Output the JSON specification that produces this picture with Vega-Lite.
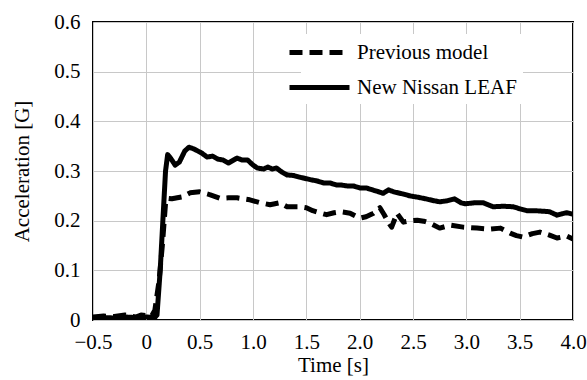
{
  "$schema": "https://vega.github.io/schema/vega-lite/v6.json",
  "width": 480,
  "height": 298,
  "autosize": {"type": "none"},
  "padding": {"left": 93, "top": 22, "right": 14, "bottom": 60},
  "background": "white",
  "config": {
    "view": {"stroke": "black", "strokeWidth": 2},
    "font": "'Liberation Serif', serif",
    "axis": {
      "labelFont": "'Liberation Serif', serif",
      "titleFont": "'Liberation Serif', serif",
      "labelFontSize": 21,
      "titleFontSize": 21,
      "labelColor": "black",
      "titleColor": "black",
      "titleFontWeight": "normal",
      "gridColor": "#c8c8c8",
      "gridWidth": 1,
      "gridOpacity": 1,
      "domain": false,
      "ticks": false
    }
  },
  "datasets": {
    "curves": [
      {"t": -0.5, "g": 0.004, "series": "New Nissan LEAF"},
      {"t": -0.4, "g": 0.005, "series": "New Nissan LEAF"},
      {"t": -0.3, "g": 0.004, "series": "New Nissan LEAF"},
      {"t": -0.2, "g": 0.006, "series": "New Nissan LEAF"},
      {"t": -0.1, "g": 0.005, "series": "New Nissan LEAF"},
      {"t": 0.0, "g": 0.006, "series": "New Nissan LEAF"},
      {"t": 0.08, "g": 0.005, "series": "New Nissan LEAF"},
      {"t": 0.10, "g": 0.01, "series": "New Nissan LEAF"},
      {"t": 0.13, "g": 0.10, "series": "New Nissan LEAF"},
      {"t": 0.16, "g": 0.22, "series": "New Nissan LEAF"},
      {"t": 0.18, "g": 0.30, "series": "New Nissan LEAF"},
      {"t": 0.20, "g": 0.333, "series": "New Nissan LEAF"},
      {"t": 0.23, "g": 0.325, "series": "New Nissan LEAF"},
      {"t": 0.27, "g": 0.312, "series": "New Nissan LEAF"},
      {"t": 0.31, "g": 0.318, "series": "New Nissan LEAF"},
      {"t": 0.36, "g": 0.340, "series": "New Nissan LEAF"},
      {"t": 0.40, "g": 0.348, "series": "New Nissan LEAF"},
      {"t": 0.45, "g": 0.344, "series": "New Nissan LEAF"},
      {"t": 0.52, "g": 0.336, "series": "New Nissan LEAF"},
      {"t": 0.57, "g": 0.328, "series": "New Nissan LEAF"},
      {"t": 0.62, "g": 0.330, "series": "New Nissan LEAF"},
      {"t": 0.67, "g": 0.324, "series": "New Nissan LEAF"},
      {"t": 0.72, "g": 0.322, "series": "New Nissan LEAF"},
      {"t": 0.77, "g": 0.316, "series": "New Nissan LEAF"},
      {"t": 0.85, "g": 0.326, "series": "New Nissan LEAF"},
      {"t": 0.90, "g": 0.322, "series": "New Nissan LEAF"},
      {"t": 0.95, "g": 0.322, "series": "New Nissan LEAF"},
      {"t": 1.00, "g": 0.312, "series": "New Nissan LEAF"},
      {"t": 1.04, "g": 0.306, "series": "New Nissan LEAF"},
      {"t": 1.10, "g": 0.304, "series": "New Nissan LEAF"},
      {"t": 1.14, "g": 0.308, "series": "New Nissan LEAF"},
      {"t": 1.18, "g": 0.304, "series": "New Nissan LEAF"},
      {"t": 1.22, "g": 0.306, "series": "New Nissan LEAF"},
      {"t": 1.27, "g": 0.298, "series": "New Nissan LEAF"},
      {"t": 1.32, "g": 0.292, "series": "New Nissan LEAF"},
      {"t": 1.38, "g": 0.291, "series": "New Nissan LEAF"},
      {"t": 1.43, "g": 0.288, "series": "New Nissan LEAF"},
      {"t": 1.47, "g": 0.286, "series": "New Nissan LEAF"},
      {"t": 1.55, "g": 0.282, "series": "New Nissan LEAF"},
      {"t": 1.60, "g": 0.280, "series": "New Nissan LEAF"},
      {"t": 1.66, "g": 0.276, "series": "New Nissan LEAF"},
      {"t": 1.72, "g": 0.276, "series": "New Nissan LEAF"},
      {"t": 1.78, "g": 0.272, "series": "New Nissan LEAF"},
      {"t": 1.82, "g": 0.272, "series": "New Nissan LEAF"},
      {"t": 1.88, "g": 0.270, "series": "New Nissan LEAF"},
      {"t": 1.94, "g": 0.270, "series": "New Nissan LEAF"},
      {"t": 2.00, "g": 0.266, "series": "New Nissan LEAF"},
      {"t": 2.06, "g": 0.266, "series": "New Nissan LEAF"},
      {"t": 2.12, "g": 0.262, "series": "New Nissan LEAF"},
      {"t": 2.18, "g": 0.258, "series": "New Nissan LEAF"},
      {"t": 2.22, "g": 0.255, "series": "New Nissan LEAF"},
      {"t": 2.27, "g": 0.262, "series": "New Nissan LEAF"},
      {"t": 2.32, "g": 0.258, "series": "New Nissan LEAF"},
      {"t": 2.40, "g": 0.254, "series": "New Nissan LEAF"},
      {"t": 2.47, "g": 0.250, "series": "New Nissan LEAF"},
      {"t": 2.55, "g": 0.247, "series": "New Nissan LEAF"},
      {"t": 2.62, "g": 0.244, "series": "New Nissan LEAF"},
      {"t": 2.70, "g": 0.240, "series": "New Nissan LEAF"},
      {"t": 2.75, "g": 0.238, "series": "New Nissan LEAF"},
      {"t": 2.82, "g": 0.240, "series": "New Nissan LEAF"},
      {"t": 2.89, "g": 0.244, "series": "New Nissan LEAF"},
      {"t": 2.95, "g": 0.236, "series": "New Nissan LEAF"},
      {"t": 2.99, "g": 0.234, "series": "New Nissan LEAF"},
      {"t": 3.08, "g": 0.236, "series": "New Nissan LEAF"},
      {"t": 3.16, "g": 0.236, "series": "New Nissan LEAF"},
      {"t": 3.25, "g": 0.228, "series": "New Nissan LEAF"},
      {"t": 3.35, "g": 0.229, "series": "New Nissan LEAF"},
      {"t": 3.44, "g": 0.228, "series": "New Nissan LEAF"},
      {"t": 3.50, "g": 0.224, "series": "New Nissan LEAF"},
      {"t": 3.57, "g": 0.220, "series": "New Nissan LEAF"},
      {"t": 3.65, "g": 0.220, "series": "New Nissan LEAF"},
      {"t": 3.72, "g": 0.219, "series": "New Nissan LEAF"},
      {"t": 3.78, "g": 0.218, "series": "New Nissan LEAF"},
      {"t": 3.85, "g": 0.211, "series": "New Nissan LEAF"},
      {"t": 3.90, "g": 0.214, "series": "New Nissan LEAF"},
      {"t": 3.94, "g": 0.216, "series": "New Nissan LEAF"},
      {"t": 4.00, "g": 0.213, "series": "New Nissan LEAF"},
      {"t": -0.5, "g": 0.006, "series": "Previous model"},
      {"t": -0.4, "g": 0.008, "series": "Previous model"},
      {"t": -0.3, "g": 0.007, "series": "Previous model"},
      {"t": -0.2, "g": 0.010, "series": "Previous model"},
      {"t": -0.1, "g": 0.006, "series": "Previous model"},
      {"t": -0.05, "g": 0.010, "series": "Previous model"},
      {"t": 0.0, "g": 0.009, "series": "Previous model"},
      {"t": 0.05, "g": 0.008, "series": "Previous model"},
      {"t": 0.08, "g": 0.02, "series": "Previous model"},
      {"t": 0.12, "g": 0.08, "series": "Previous model"},
      {"t": 0.15, "g": 0.15, "series": "Previous model"},
      {"t": 0.18, "g": 0.235, "series": "Previous model"},
      {"t": 0.20, "g": 0.245, "series": "Previous model"},
      {"t": 0.24, "g": 0.244, "series": "Previous model"},
      {"t": 0.29, "g": 0.246, "series": "Previous model"},
      {"t": 0.34, "g": 0.248, "series": "Previous model"},
      {"t": 0.41, "g": 0.256, "series": "Previous model"},
      {"t": 0.50, "g": 0.258, "series": "Previous model"},
      {"t": 0.60, "g": 0.252, "series": "Previous model"},
      {"t": 0.69, "g": 0.245, "series": "Previous model"},
      {"t": 0.77, "g": 0.246, "series": "Previous model"},
      {"t": 0.85, "g": 0.246, "series": "Previous model"},
      {"t": 0.97, "g": 0.242, "series": "Previous model"},
      {"t": 1.07, "g": 0.236, "series": "Previous model"},
      {"t": 1.16, "g": 0.232, "series": "Previous model"},
      {"t": 1.25, "g": 0.236, "series": "Previous model"},
      {"t": 1.32, "g": 0.228, "series": "Previous model"},
      {"t": 1.44, "g": 0.228, "series": "Previous model"},
      {"t": 1.50, "g": 0.226, "series": "Previous model"},
      {"t": 1.56, "g": 0.220, "series": "Previous model"},
      {"t": 1.62, "g": 0.216, "series": "Previous model"},
      {"t": 1.69, "g": 0.212, "series": "Previous model"},
      {"t": 1.76, "g": 0.216, "series": "Previous model"},
      {"t": 1.82, "g": 0.218, "series": "Previous model"},
      {"t": 1.91, "g": 0.215, "series": "Previous model"},
      {"t": 2.00, "g": 0.205, "series": "Previous model"},
      {"t": 2.06, "g": 0.208, "series": "Previous model"},
      {"t": 2.13, "g": 0.215, "series": "Previous model"},
      {"t": 2.19, "g": 0.226, "series": "Previous model"},
      {"t": 2.23, "g": 0.212, "series": "Previous model"},
      {"t": 2.27, "g": 0.196, "series": "Previous model"},
      {"t": 2.30, "g": 0.187, "series": "Previous model"},
      {"t": 2.35, "g": 0.215, "series": "Previous model"},
      {"t": 2.41, "g": 0.197, "series": "Previous model"},
      {"t": 2.48, "g": 0.200, "series": "Previous model"},
      {"t": 2.54, "g": 0.201, "series": "Previous model"},
      {"t": 2.60, "g": 0.199, "series": "Previous model"},
      {"t": 2.66, "g": 0.195, "series": "Previous model"},
      {"t": 2.75, "g": 0.185, "series": "Previous model"},
      {"t": 2.85, "g": 0.191, "series": "Previous model"},
      {"t": 2.97, "g": 0.187, "series": "Previous model"},
      {"t": 3.10, "g": 0.185, "series": "Previous model"},
      {"t": 3.22, "g": 0.183, "series": "Previous model"},
      {"t": 3.32, "g": 0.185, "series": "Previous model"},
      {"t": 3.41, "g": 0.175, "series": "Previous model"},
      {"t": 3.47, "g": 0.170, "series": "Previous model"},
      {"t": 3.53, "g": 0.167, "series": "Previous model"},
      {"t": 3.62, "g": 0.174, "series": "Previous model"},
      {"t": 3.69, "g": 0.177, "series": "Previous model"},
      {"t": 3.78, "g": 0.171, "series": "Previous model"},
      {"t": 3.85, "g": 0.165, "series": "Previous model"},
      {"t": 3.94, "g": 0.169, "series": "Previous model"},
      {"t": 4.00, "g": 0.163, "series": "Previous model"}
    ]
  },
  "data": {"name": "curves"},
  "mark": {"type": "line", "color": "black", "strokeWidth": 5, "strokeCap": "butt", "strokeJoin": "round", "clip": true},
  "encoding": {
    "x": {
      "field": "t",
      "type": "quantitative",
      "title": "Time [s]",
      "scale": {"domain": [-0.5, 4.0], "nice": false, "zero": false},
      "axis": {
        "values": [-0.5, 0, 0.5, 1, 1.5, 2, 2.5, 3, 3.5, 4],
        "labelExpr": "datum.value == 0 ? '0' : format(datum.value, '.1f')",
        "labelPadding": 11,
        "titlePadding": 2,
        "labelFlush": false,
        "labelOverlap": false
      }
    },
    "y": {
      "field": "g",
      "type": "quantitative",
      "title": "Acceleration [G]",
      "scale": {"domain": [0, 0.6], "nice": false},
      "axis": {
        "values": [0, 0.1, 0.2, 0.3, 0.4, 0.5, 0.6],
        "labelExpr": "datum.value == 0 ? '0' : format(datum.value, '.1f')",
        "labelPadding": 13,
        "titlePadding": 21,
        "labelFlush": false,
        "labelOverlap": false
      }
    },
    "strokeDash": {
      "field": "series",
      "type": "nominal",
      "scale": {"domain": ["Previous model", "New Nissan LEAF"], "range": [[13, 7], [1, 0]]},
      "legend": {
        "title": null,
        "orient": "none",
        "legendX": 208,
        "legendY": 12,
        "fillColor": "white",
        "padding": 6,
        "labelFont": "'Liberation Serif', serif",
        "labelFontSize": 21,
        "labelColor": "black",
        "labelOffset": 25,
        "labelExpr": "datum.label + '         '",
        "symbolType": "M-3,0L3,0",
        "symbolSize": 400,
        "symbolStrokeWidth": 5,
        "symbolStrokeColor": "black",
        "rowPadding": 12,
        "encode": {
          "symbols": {"update": {"strokeDash": {"signal": "datum.value === 'Previous model' ? [19, 22] : [1, 0]"}}}
        }
      }
    }
  }
}
